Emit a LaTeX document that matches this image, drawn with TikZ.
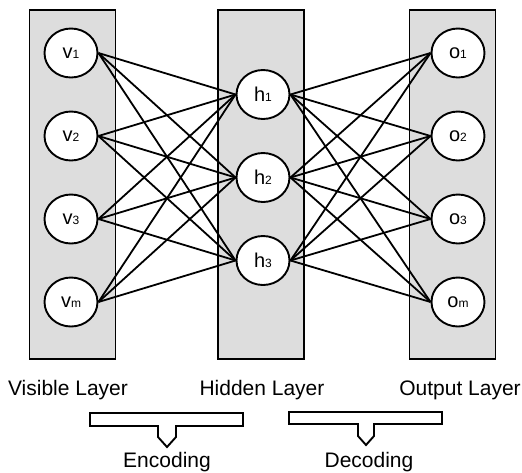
\documentclass[tikz,border=0pt]{standalone}
\usepackage{fontspec}
\setmainfont{Liberation Sans}
\usepackage{tikz}
\usetikzlibrary{positioning,shapes.geometric}

\pgfdeclarelayer{back}
\pgfdeclarelayer{wires}
\pgfsetlayers{back,wires,main}

\newcommand{\unitidx}[1]{{\fontsize{12}{12}\selectfont #1}}

\begin{document}
\begin{tikzpicture}[x=1pt, y=-1pt, node distance=83pt, on grid,
    every node/.style={font=\fontsize{21}{25}\selectfont},
    layer/.style={draw, fill=gray!27, line width=1.9pt,
                  minimum width=86pt, minimum height=349pt},
    unit/.style={draw, ellipse, fill=white, line width=1.9pt, inner sep=0pt,
                 minimum width=53pt, minimum height=49pt,
                 font=\fontsize{20}{22}\selectfont},
    link/.style={line width=1.8pt},
    bracket/.style={line width=1.9pt, line join=miter}]
    \useasboundingbox (0,0) rectangle (522,472);

    % units
    \node[unit] (v1) at (71,53) {v\unitidx{1}};
    \node[unit, below=of v1] (v2) {v\unitidx{2}};
    \node[unit, below=of v2] (v3) {v\unitidx{3}};
    \node[unit, below=of v3] (vm) {v\unitidx{m}};

    \node[unit] (h2) at (263,177.5) {h\unitidx{2}};
    \node[unit, above=of h2] (h1) {h\unitidx{1}};
    \node[unit, below=of h2] (h3) {h\unitidx{3}};

    \node[unit] (o1) at (458,53) {o\unitidx{1}};
    \node[unit, below=of o1] (o2) {o\unitidx{2}};
    \node[unit, below=of o2] (o3) {o\unitidx{3}};
    \node[unit, below=of o3] (om) {o\unitidx{m}};

    % layers behind everything
    \begin{pgfonlayer}{back}
        \node[layer] (visible) at (72.5,184.5) {};
        \node[layer] (hidden) at (261,184.5) {};
        \node[layer] (output) at (452.5,184.5) {};
    \end{pgfonlayer}

    % full connections
    \begin{pgfonlayer}{wires}
    \foreach \i in {1,2,3,m}
        \foreach \j in {1,2,3} {
            \draw[link] (v\i.east) -- (h\j.west);
            \draw[link] (h\j.east) -- (o\i.west);
        }
    \end{pgfonlayer}

    % layer names
    \node (visiblename) at (68,390) {Visible Layer};
    \node (hiddenname) at (262,390) {Hidden Layer};
    \node (outputname) at (460,390) {Output Layer};

    % brackets
    \draw[bracket] (90,413) -- (243,413) -- (243,426) -- (176,426) -- (176,437)
        -- (167,447) -- (158,437) -- (158,426) -- (90,426) -- cycle;
    \draw[bracket] (289,412) -- (442,412) -- (442,424) -- (374,424) -- (374,436)
        -- (366,445) -- (358,436) -- (358,424) -- (289,424) -- cycle;

    \node (encoding) at (167,462) {Encoding};
    \node (decoding) at (369,462) {Decoding};
\end{tikzpicture}
\end{document}
